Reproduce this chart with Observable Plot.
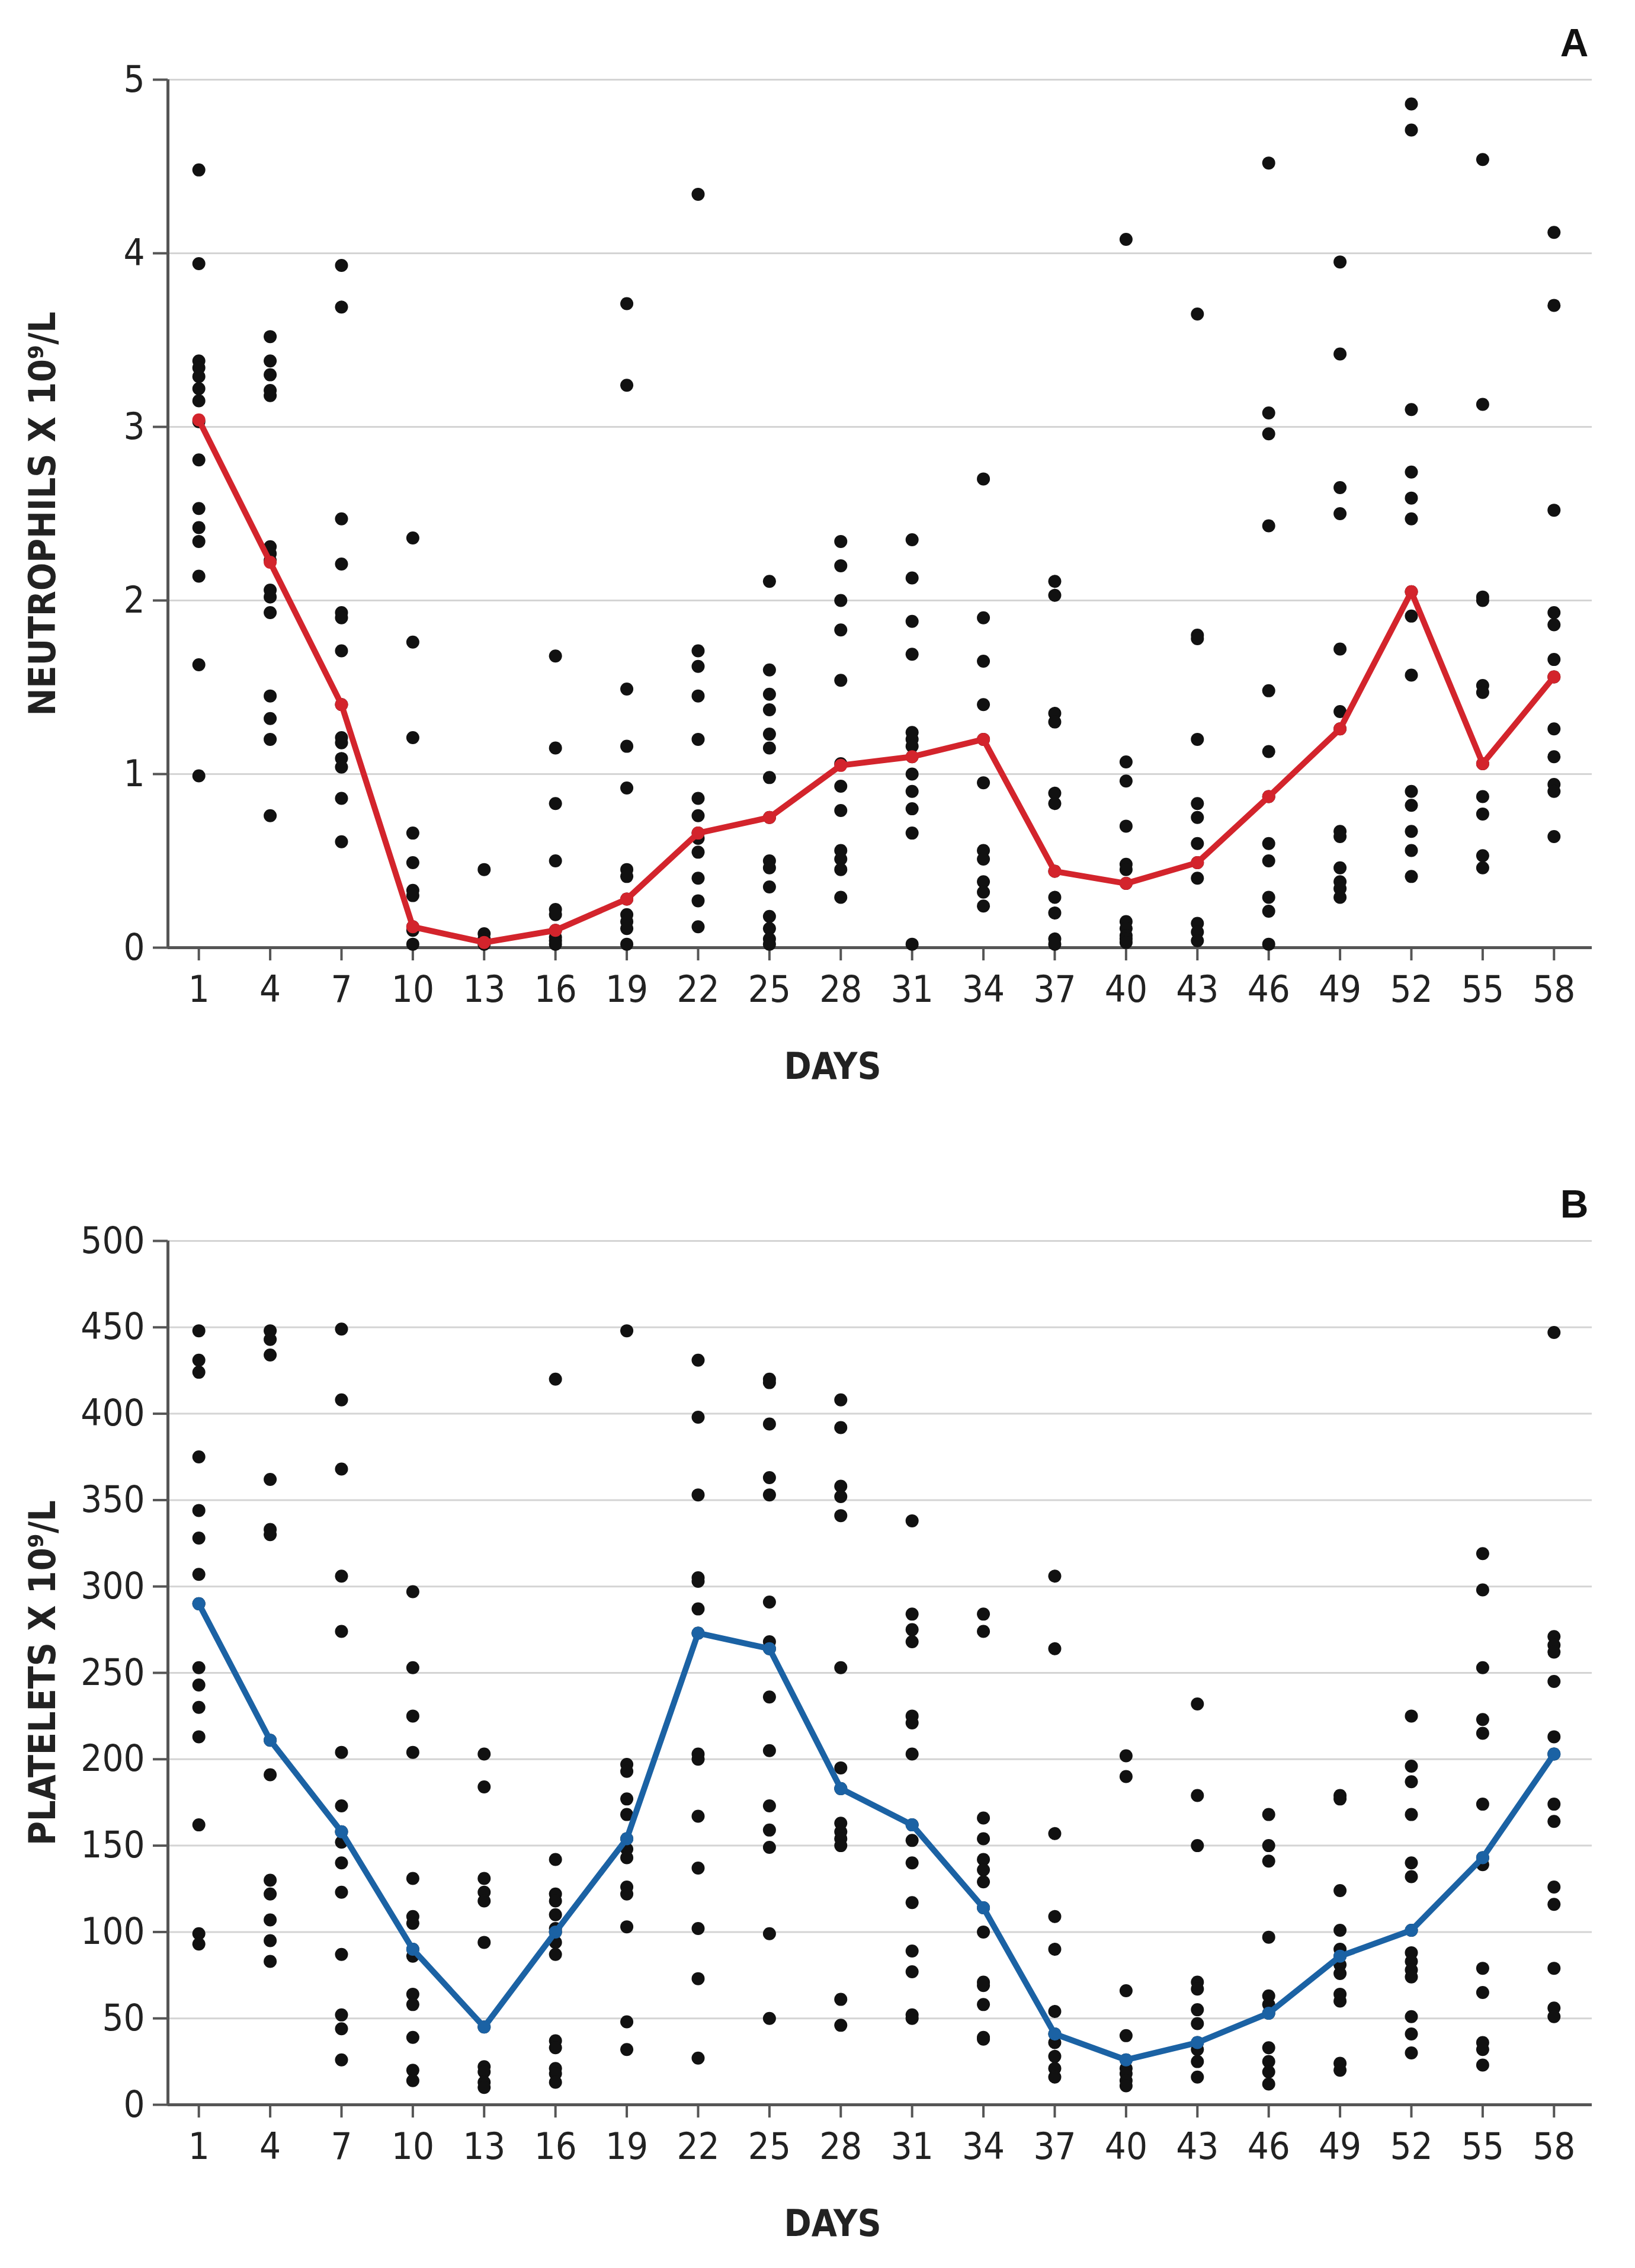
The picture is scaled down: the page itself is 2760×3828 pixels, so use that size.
<!DOCTYPE html>
<html>
<head>
<meta charset="utf-8">
<script src="https://cdn.jsdelivr.net/npm/d3@7"></script>
<script src="https://cdn.jsdelivr.net/npm/@observablehq/plot@0.6"></script>
<style>
  body { margin: 0; background: #fff; }
  #charts svg { display: block; font-stretch: condensed; }
</style>
</head>
<body>
<div id="charts"></div>
<script>
const days = [1, 4, 7, 10, 13, 16, 19, 22, 25, 28, 31, 34, 37, 40, 43, 46, 49, 52, 55, 58];

// median line, panel A
const neutrophilMean = [3.04, 2.22, 1.40, 0.12, 0.03, 0.10, 0.28, 0.66, 0.75, 1.05,
  1.10, 1.20, 0.44, 0.37, 0.49, 0.87, 1.26, 2.05, 1.06, 1.56];

// individual patients, panel A (one list per day)
const neutrophilValues = [
  [4.48, 3.94, 3.38, 3.34, 3.29, 3.22, 3.15, 3.03, 2.81, 2.53, 2.42, 2.34, 2.14, 1.63, 0.99],
  [3.52, 3.38, 3.30, 3.21, 3.18, 2.31, 2.27, 2.23, 2.06, 2.02, 1.93, 1.45, 1.32, 1.20, 0.76],
  [3.93, 3.69, 2.47, 2.21, 1.93, 1.90, 1.71, 1.40, 1.21, 1.18, 1.09, 1.04, 0.86, 0.61],
  [2.36, 1.76, 1.21, 0.66, 0.49, 0.33, 0.30, 0.12, 0.10, 0.02],
  [0.45, 0.08, 0.05, 0.03, 0.02],
  [1.68, 1.15, 0.83, 0.50, 0.22, 0.19, 0.10, 0.06, 0.04, 0.02],
  [3.71, 3.24, 1.49, 1.16, 0.92, 0.45, 0.41, 0.28, 0.19, 0.15, 0.11, 0.02],
  [4.34, 1.71, 1.62, 1.45, 1.20, 0.86, 0.76, 0.66, 0.63, 0.55, 0.40, 0.27, 0.12],
  [2.11, 1.60, 1.46, 1.37, 1.23, 1.15, 0.98, 0.75, 0.50, 0.46, 0.35, 0.18, 0.11, 0.05, 0.02],
  [2.34, 2.20, 2.00, 1.83, 1.54, 1.06, 0.93, 0.79, 0.56, 0.51, 0.45, 0.29],
  [2.35, 2.13, 1.88, 1.69, 1.24, 1.20, 1.16, 1.10, 1.00, 0.90, 0.80, 0.66, 0.02],
  [2.70, 1.90, 1.65, 1.40, 1.20, 0.95, 0.56, 0.51, 0.38, 0.32, 0.24],
  [2.11, 2.03, 1.35, 1.30, 0.89, 0.83, 0.44, 0.29, 0.20, 0.05, 0.02],
  [4.08, 1.07, 0.96, 0.70, 0.48, 0.45, 0.37, 0.15, 0.11, 0.07, 0.05, 0.03],
  [3.65, 1.80, 1.78, 1.20, 0.83, 0.75, 0.60, 0.49, 0.40, 0.14, 0.09, 0.04],
  [4.52, 3.08, 2.96, 2.43, 1.48, 1.13, 0.87, 0.60, 0.50, 0.29, 0.21, 0.02],
  [3.95, 3.42, 2.65, 2.50, 1.72, 1.36, 1.26, 0.67, 0.64, 0.46, 0.38, 0.34, 0.29],
  [4.86, 4.71, 3.10, 2.74, 2.59, 2.47, 2.05, 1.91, 1.57, 0.90, 0.82, 0.67, 0.56, 0.41],
  [4.54, 3.13, 2.02, 2.00, 1.51, 1.47, 1.06, 0.87, 0.77, 0.53, 0.46],
  [4.12, 3.70, 2.52, 1.93, 1.86, 1.66, 1.56, 1.26, 1.10, 0.94, 0.90, 0.64]
];

// median line, panel B
const plateletMean = [290, 211, 158, 90, 45, 100, 154, 273, 264, 183,
  162, 114, 41, 26, 36, 53, 86, 101, 143, 203];

// individual patients, panel B
const plateletValues = [
  [448, 431, 424, 375, 344, 328, 307, 290, 253, 243, 230, 213, 162, 99, 93],
  [448, 443, 434, 362, 333, 330, 211, 191, 130, 122, 107, 95, 83],
  [449, 408, 368, 306, 274, 204, 173, 158, 152, 140, 123, 87, 52, 44, 26],
  [297, 253, 225, 204, 131, 109, 105, 90, 86, 64, 58, 39, 20, 14],
  [203, 184, 131, 123, 118, 94, 45, 22, 19, 13, 10],
  [420, 142, 122, 118, 110, 102, 100, 94, 87, 37, 33, 21, 18, 13],
  [448, 197, 193, 177, 168, 154, 148, 143, 126, 122, 103, 48, 32],
  [431, 398, 353, 305, 303, 287, 273, 203, 200, 167, 137, 102, 73, 27],
  [420, 418, 394, 363, 353, 291, 268, 264, 236, 205, 173, 159, 149, 99, 50],
  [408, 392, 358, 352, 341, 253, 195, 183, 163, 158, 154, 150, 61, 46],
  [338, 284, 275, 268, 225, 221, 203, 162, 153, 140, 117, 89, 77, 52, 50],
  [284, 274, 166, 154, 142, 136, 129, 114, 100, 71, 69, 58, 39, 38],
  [306, 264, 157, 109, 90, 54, 41, 36, 28, 21, 16],
  [202, 190, 66, 40, 26, 21, 18, 14, 11],
  [232, 179, 150, 71, 67, 55, 47, 36, 32, 25, 16],
  [168, 150, 141, 97, 63, 58, 53, 33, 25, 19, 12],
  [179, 177, 124, 101, 90, 86, 81, 76, 64, 60, 24, 20],
  [225, 196, 187, 168, 140, 132, 101, 88, 83, 78, 74, 51, 41, 30],
  [319, 298, 253, 223, 215, 174, 143, 139, 79, 65, 36, 32, 23],
  [447, 271, 266, 262, 245, 213, 203, 174, 164, 126, 116, 79, 56, 51]
];

const neutrophilTicks = [0, 1, 2, 3, 4, 5];
const plateletTicks = d3.range(0, 501, 50);

const narrow = "'Liberation Sans Narrow', 'DejaVu Sans Condensed', 'DejaVu Sans', sans-serif";
const xDomain = [-0.3, 59.6];

panel = (opts) => {
  let dots = days.flatMap((d, i) => opts.values[i].map(v => ({day: d, value: v})));
  let mean = days.map((d, i) => ({day: d, value: opts.mean[i]}));

  return Plot.plot({
    width: 2760,
    height: opts.height,
    marginTop: opts.marginTop,
    marginBottom: opts.marginBottom,
    marginLeft: 283,
    marginRight: 73,
    style: {fontFamily: narrow, background: "#fff", color: "#222"},
    x: {domain: xDomain},
    y: {domain: opts.domain},
    marks: [
      Plot.gridY(opts.ticks, {stroke: "#d4d4d4", strokeOpacity: 1, strokeWidth: 3}),
      Plot.axisY(opts.ticks, {
        tickSize: 25, tickPadding: 14, fontSize: 63, label: null, tickFormat: "d",
        stroke: "#555", strokeWidth: 4, fill: "#222"
      }),
      Plot.axisX(days, {
        tickSize: 22, tickPadding: 25, fontSize: 63, label: null,
        stroke: "#555", strokeWidth: 4, fill: "#222"
      }),
      Plot.ruleY([opts.domain[0]], {stroke: "#555", strokeWidth: 5}),
      Plot.ruleX([xDomain[0]], {stroke: "#555", strokeWidth: 5}),
      Plot.dot(dots, {x: "day", y: "value", r: 11, fill: "#111", stroke: "none"}),
      Plot.line(mean, {x: "day", y: "value", stroke: opts.color, strokeWidth: 10}),
      Plot.dot(mean, {x: "day", y: "value", r: 11, fill: opts.color, stroke: "none"}),
      Plot.text(["DAYS"], {
        frameAnchor: "bottom", lineAnchor: "middle", dx: -80, dy: 202,
        fontSize: 62, fontWeight: "bold", fill: "#222"
      }),
      Plot.text([opts.title], {
        frameAnchor: "left", textAnchor: "middle", lineAnchor: "middle", dx: -210, rotate: -90,
        fontSize: 62, fontWeight: "bold", fill: "#222"
      }),
      Plot.text([opts.letter], {
        frameAnchor: "top-right", lineAnchor: "middle", dx: -6, dy: -61, fontSize: 66,
        fontWeight: "bold", fontFamily: "'Liberation Sans', Arial, sans-serif", fill: "#111"
      })
    ]
  });
};

const charts = document.getElementById("charts");

charts.appendChild(panel({
  values: neutrophilValues, mean: neutrophilMean, ticks: neutrophilTicks,
  domain: [0, 5], color: "#d3242c", title: "NEUTROPHILS X 10⁹/L", letter: "A",
  height: 1860, marginTop: 134, marginBottom: 261
}));

charts.appendChild(panel({
  values: plateletValues, mean: plateletMean, ticks: plateletTicks,
  domain: [0, 500], color: "#1b62a4", title: "PLATELETS X 10⁹/L", letter: "B",
  height: 1968, marginTop: 234, marginBottom: 276
}));
</script>
</body>
</html>
